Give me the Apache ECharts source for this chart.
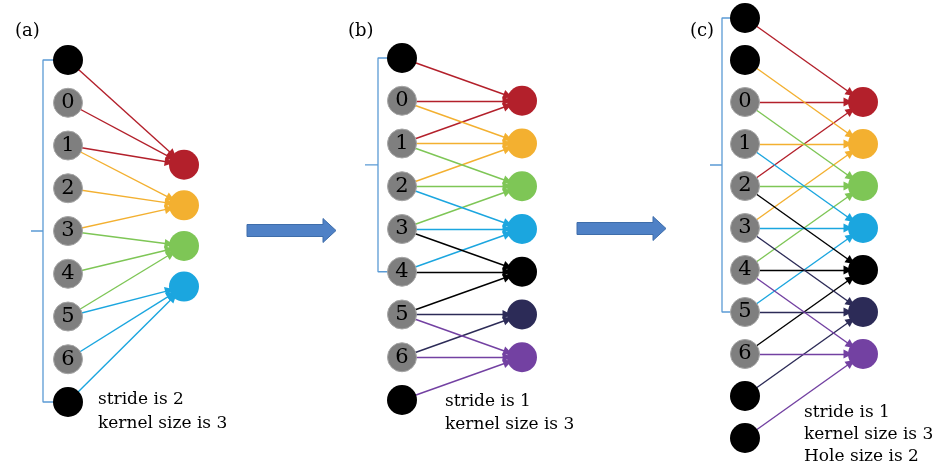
<!DOCTYPE html>
<html>
<head>
<meta charset="utf-8">
<script src="https://cdn.jsdelivr.net/npm/echarts@6/dist/echarts.min.js"></script>
<style>
html,body{margin:0;padding:0;background:#fff;}
#chart{width:934px;height:469px;}
</style>
</head>
<body>
<div id="chart"></div>
<script>
// ---------- data ----------
const panelTitles = ['(a)', '(b)', '(c)'];

const inputLabelsA = ['', '0', '1', '2', '3', '4', '5', '6', ''];
const outputRowsA = [2.45, 3.4, 4.35, 5.3];
const kernelsA = [[0, 1, 2], [2, 3, 4], [4, 5, 6], [6, 7, 8]];
const bracketA = [0, 8, 4];
const notesA = ['stride is 2', 'kernel size is 3'];

const inputLabelsB = ['', '0', '1', '2', '3', '4', '5', '6', ''];
const outputRowsB = [1, 2, 3, 4, 5, 6, 7];
const kernelsB = [[0, 1, 2], [1, 2, 3], [2, 3, 4], [3, 4, 5], [4, 5, 6], [6, 7], [6, 7, 8]];
const bracketB = [0, 5, 2.5];
const notesB = ['stride is 1', 'kernel size is 3'];

const inputLabelsC = ['', '', '0', '1', '2', '3', '4', '5', '6', '', ''];
const outputRowsC = [2, 3, 4, 5, 6, 7, 8];
const kernelsC = [[0, 2, 4], [1, 3, 5], [2, 4, 6], [3, 5, 7], [4, 6, 8], [5, 7, 9], [6, 8, 10]];
const bracketC = [0, 7, 3.5];
const notesC = ['stride is 1', 'kernel size is 3', 'Hole size is 2'];

const outputColors = ['#B3202B', '#F3B030', '#7EC656', '#1BA6DF', '#000000', '#2C2B57', '#7341A2'];

// ---------- layout (styles / positions) ----------
const SERIF = '"DejaVu Serif", serif';
const layouts = [
  { col0: 68, unit: 116, top: 60, step: 42.75, bx: -25, tx: -37, note: { left: 93, top: 383, lh: 24 }, title: 10 },
  { col0: 402, unit: 120, top: 58, step: 42.75, bx: -24, tx: -37, note: { left: 440, top: 385, lh: 23 }, title: 343 },
  { col0: 745, unit: 118, top: 18, step: 42, bx: -23, tx: -35, note: { left: 799, top: 397, lh: 22 }, title: 685 }
];
const panels = [
  { inputs: inputLabelsA, outRows: outputRowsA, kernels: kernelsA, bracket: bracketA, notes: notesA },
  { inputs: inputLabelsB, outRows: outputRowsB, kernels: kernelsB, bracket: bracketB, notes: notesB },
  { inputs: inputLabelsC, outRows: outputRowsC, kernels: kernelsC, bracket: bracketC, notes: notesC }
];

const XMIN = -0.4, XMAX = 1.25;
const grids = [], xAxes = [], yAxes = [], series = [], titles = [];

panels.forEach(function (p, i) {
  const L = layouts[i];
  const nRows = p.inputs.length;
  grids.push({
    left: L.col0 + XMIN * L.unit,
    width: (XMAX - XMIN) * L.unit,
    top: L.top,
    height: (nRows - 1) * L.step
  });
  xAxes.push({ gridIndex: i, type: 'value', min: XMIN, max: XMAX, show: false });
  yAxes.push({ gridIndex: i, type: 'value', min: 0, max: nRows - 1, inverse: true, show: false });

  // bracket
  const bx = L.bx / L.unit, tx = L.tx / L.unit;
  const b = p.bracket;
  series.push({
    type: 'line', xAxisIndex: i, yAxisIndex: i, z: 1,
    symbol: 'none', silent: true, clip: false,
    lineStyle: { color: '#5B9BD5', width: 1.3 },
    data: [[0, b[0]], [bx, b[0]], [bx, b[2]], [tx, b[2]], [bx, b[2]], [bx, b[1]], [0, b[1]]]
  });

  // nodes & edges
  const nodes = [];
  p.inputs.forEach(function (lab, k) {
    const isPad = lab === '';
    nodes.push({
      name: 'in' + k,
      value: [0, k],
      symbolSize: isPad ? 30 : 29,
      itemStyle: isPad ? { color: '#000' } : { color: '#7F7F7F', borderColor: '#A6A6A6', borderWidth: 1 },
      label: {
        show: !isPad, position: 'inside', formatter: lab,
        fontFamily: SERIF, fontSize: 21, color: '#000'
      }
    });
  });
  const nIn = p.inputs.length;
  p.outRows.forEach(function (r, k) {
    nodes.push({
      name: 'out' + k,
      value: [1, r],
      symbolSize: 30,
      itemStyle: { color: outputColors[k] },
      label: { show: false }
    });
  });
  const links = [];
  p.kernels.forEach(function (srcs, k) {
    srcs.forEach(function (s) {
      links.push({ source: s, target: nIn + k, lineStyle: { color: outputColors[k] } });
    });
  });
  series.push({
    type: 'graph', coordinateSystem: 'cartesian2d', xAxisIndex: i, yAxisIndex: i,
    layout: 'none', z: 3, silent: true,
    symbol: 'circle',
    edgeSymbol: ['none', 'triangle'], edgeSymbolSize: [0, 9],
    lineStyle: { width: 1.4, opacity: 1, curveness: 0 },
    emphasis: { disabled: true },
    data: nodes,
    links: links
  });

  titles.push({
    text: panelTitles[i], left: L.title, top: 17,
    textStyle: { fontFamily: SERIF, fontSize: 18, fontWeight: 'normal', color: '#000' }
  });
  titles.push({
    text: p.notes.join('\n'), left: L.note.left, top: L.note.top,
    textStyle: { fontFamily: SERIF, fontSize: 17, fontWeight: 'normal', color: '#000', lineHeight: L.note.lh }
  });
});

function blockArrow(x0, yc) {
  const bodyH = 12, headH = 24, bodyL = 76, headL = 13;
  return {
    type: 'polygon', z: 10,
    shape: {
      points: [
        [x0, yc - bodyH / 2], [x0 + bodyL, yc - bodyH / 2], [x0 + bodyL, yc - headH / 2],
        [x0 + bodyL + headL, yc], [x0 + bodyL, yc + headH / 2], [x0 + bodyL, yc + bodyH / 2],
        [x0, yc + bodyH / 2]
      ]
    },
    style: { fill: '#4F81C6', stroke: '#3E6DAA', lineWidth: 1 }
  };
}

const chart = echarts.init(document.getElementById('chart'), null, { renderer: 'canvas' });
chart.setOption({
  animation: false,
  backgroundColor: '#ffffff',
  title: titles,
  grid: grids,
  xAxis: xAxes,
  yAxis: yAxes,
  series: series,
  graphic: [blockArrow(247, 230.5), blockArrow(577, 228.5)]
});
</script>
</body>
</html>
